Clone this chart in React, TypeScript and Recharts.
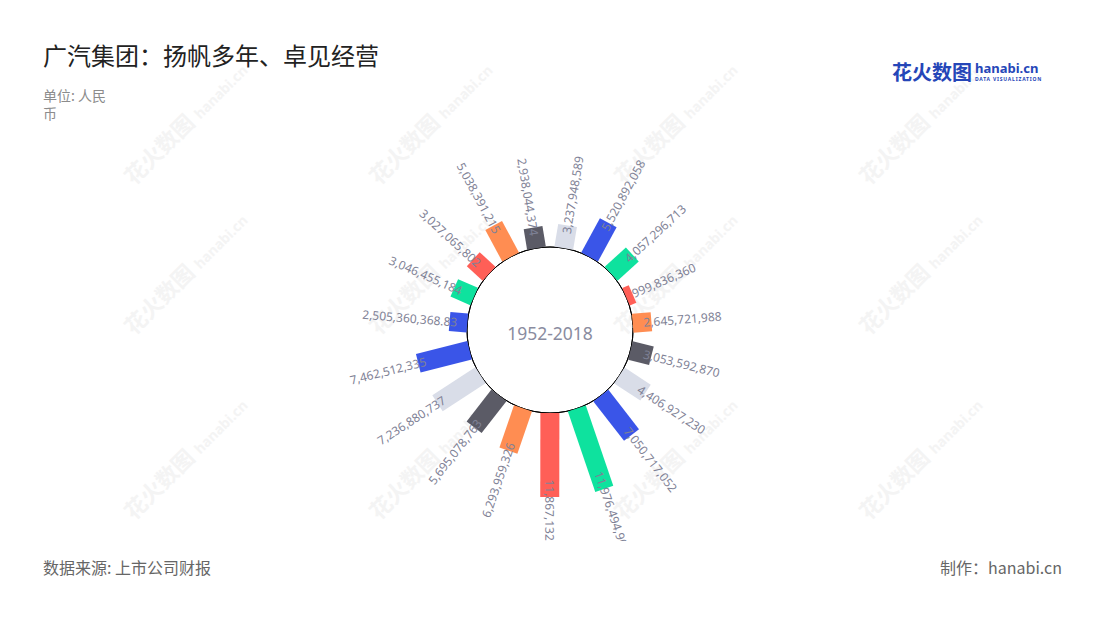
import React from 'react';
import { RadialBarChart, RadialBar, PolarAngleAxis, PolarRadiusAxis, PolarGrid } from 'recharts';

const categories = ['1', '2', '3', '4', '5', '6', '7', '8', '9', '10', '11', '12', '13', '14', '15', '16', '17', '18', '19'];
const values = [
  3237948589, 5520892058, 4057296713, 999836360, 2645721988, 3053592870, 4406927230,
  7050717052, 11976494900, 11867132000, 6293959326, 5695078763, 7236880737, 7462512335,
  2505360368.83, 3046455184, 3027065802, 5038391215, 2938044374,
];
const colors = [
  '#d9dde8', '#3a55e8', '#0ee29e', '#ff5f57', '#ff8d52', '#5b5b66',
  '#d9dde8', '#3a55e8', '#0ee29e', '#ff5f57', '#ff8d52', '#5b5b66',
  '#d9dde8', '#3a55e8', '#3a55e8', '#0ee29e', '#ff5f57', '#ff8d52', '#5b5b66',
];
const centerLabel = '1952-2018';
const title = '广汽集团：扬帆多年、卓见经营';
const unitLine1 = '单位: 人民';
const unitLine2 = '币';
const sourceText = '数据来源: 上市公司财报';
const makerText = '制作：hanabi.cn';

const data = categories.map((name, i) => ({ name, value: values[i], fill: colors[i] }));

const BAR_W = 19;
const BAND = 360 / categories.length;
const FONT = '"Noto Sans", "Noto Sans CJK SC", sans-serif';
const fmt = (v: number) => v.toLocaleString('en-US', { maximumFractionDigits: 2 });

function ColumnShape(props: any) {
  const { cx, cy, innerRadius, outerRadius, startAngle, endAngle, index } = props;
  const entry = props.payload || props;
  const fill = entry.fill || props.fill;
  const value = entry.value ?? props.value;
  const mid = (startAngle + endAngle) / 2;
  const len = outerRadius - innerRadius;
  let cw = (90 - mid) % 360;
  if (cw < 0) cw += 360;
  const right = cw < 181;
  const off = Math.min(8, Math.max(0, len - 10)) + Math.max(0, len - 60) * 0.4;
  const r = outerRadius - off;
  const rad = (-mid * Math.PI) / 180;
  const x = cx + r * Math.cos(rad);
  const y = cy + r * Math.sin(rad);
  const rot = right ? cw - 90 : cw - 270;
  const clipId = `lblclip-${index}`;
  return (
    <g>
      <defs>
        <clipPath id={clipId}>
          <rect x={0} y={0} width={1100} height={541} />
        </clipPath>
      </defs>
      <rect
        x={innerRadius}
        y={-BAR_W / 2}
        width={len}
        height={BAR_W}
        fill={fill}
        transform={`translate(${cx},${cy}) rotate(${-mid})`}
      />
      <g clipPath={`url(#${clipId})`}>
        <text
          x={x}
          y={y}
          transform={`rotate(${rot},${x},${y})`}
          textAnchor={right ? 'start' : 'end'}
          dominantBaseline="central"
          fontSize={12}
          fontFamily={FONT}
          fill="#7f8296"
        >
          {fmt(value)}
        </text>
      </g>
    </g>
  );
}

const wmX = [165, 410, 655, 900];
const wmY = [155, 305, 490];

export default function App() {
  return (
    <div style={{ position: 'absolute', left: 0, top: 0, width: 1100, height: 620, background: '#fff', fontFamily: '"Noto Sans CJK SC", "Noto Sans", sans-serif' }}>
      <RadialBarChart
        width={1100}
        height={620}
        cx={550}
        cy={330}
        innerRadius={83}
        outerRadius={168}
        startAngle={90 - BAND}
        endAngle={-270 - BAND}
        layout="centric"
        data={data}
        margin={{ top: 0, right: 0, bottom: 0, left: 0 }}
      >
        {wmX.map((wx) =>
          wmY.map((wy) => (
            <g key={`${wx}-${wy}`} transform={`translate(${wx},${wy}) rotate(-45)`} opacity={0.4}>
              <text x={0} y={0} textAnchor="middle" fontSize={22} fontWeight={700} fill="#e4e4e4" fontFamily='"Noto Sans CJK SC"'>花火数图</text>
              <text x={50} y={0} textAnchor="start" fontSize={14} fontWeight={700} fill="#e4e4e4" fontFamily='"Noto Sans"'>hanabi.cn</text>
            </g>
          ))
        )}
        <PolarGrid gridType="circle" polarRadius={[83]} radialLines={false} stroke="#000" strokeWidth={1} fill="#fff" />
        <PolarAngleAxis dataKey="name" type="category" tick={false} axisLine={false} tickLine={false} />
        <PolarRadiusAxis type="number" domain={[0, 12000000000]} tick={false} axisLine={false} tickLine={false} />
        <RadialBar dataKey="value" isAnimationActive={false} shape={ColumnShape} />
        <text x={550} y={333} textAnchor="middle" dominantBaseline="central" fontSize={17.5} fill="#8a8ca0" fontFamily={FONT}>
          {centerLabel}
        </text>
      </RadialBarChart>

      <div style={{ position: 'absolute', left: 43, top: 38, fontSize: 24, color: '#222', lineHeight: '34px', whiteSpace: 'nowrap' }}>{title}</div>
      <div style={{ position: 'absolute', left: 43, top: 86, fontSize: 14, color: '#8c8c8c', lineHeight: '18px' }}>
        <div>{unitLine1}</div>
        <div>{unitLine2}</div>
      </div>
      <div style={{ position: 'absolute', left: 43, top: 555, fontSize: 16, color: '#666', lineHeight: '24px', whiteSpace: 'nowrap' }}>{sourceText}</div>
      <div style={{ position: 'absolute', right: 38, top: 555, fontSize: 16, color: '#666', lineHeight: '24px', whiteSpace: 'nowrap' }}>{makerText}</div>

      <div style={{ position: 'absolute', left: 892, top: 60, display: 'flex', alignItems: 'center', whiteSpace: 'nowrap' }}>
        <span style={{ fontSize: 20, fontWeight: 700, color: '#2546b8', lineHeight: '24px' }}>花火数图</span>
        <span style={{ marginLeft: 3, display: 'flex', flexDirection: 'column' }}>
          <span style={{ fontFamily: '"Noto Sans"', fontSize: 13, fontWeight: 700, color: '#2546b8', lineHeight: '13px' }}>hanabi.cn</span>
          <span style={{ fontFamily: '"Noto Sans"', fontSize: 5, fontWeight: 700, color: '#2546b8', letterSpacing: 0.8, lineHeight: '7px', marginTop: 1 }}>DATA VISUALIZATION</span>
        </span>
      </div>
    </div>
  );
}
